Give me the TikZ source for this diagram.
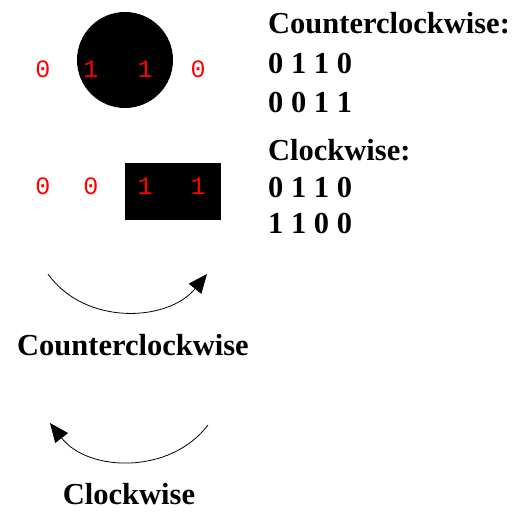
\documentclass[tikz,border=0pt]{standalone}
\usepackage{fontspec}
\setmainfont{Liberation Serif}
\newfontfamily\digitfont{Liberation Mono}
\usetikzlibrary{arrows.meta}
\begin{document}
\begin{tikzpicture}[x=1pt,y=-1pt,
  lbl/.style={font=\fontsize{30.5}{30.5}\selectfont\bfseries, inner sep=0pt, anchor=base west},
  caption/.style={font=\fontsize{30.5}{30.5}\selectfont\bfseries, inner sep=0pt, anchor=base},
  bit/.style={font=\digitfont\fontsize{25}{25}\selectfont, text=red, inner sep=0pt, anchor=base},
  turn/.style={line width=0.8pt, -{Triangle[length=19pt,width=16pt]}}]
\useasboundingbox (0,0) rectangle (514,512);
\fill[white] (0,0) rectangle (514,512);
% shapes
\node[circle, fill=black, minimum size=96pt, inner sep=0pt] (disk) at (125,60) {};
\node[fill=black, minimum width=96pt, minimum height=57pt, inner sep=0pt, anchor=north west] (bar) at (125,163) {};
% red bits, row 1
\node[bit] (b11) at (43,77) {0};
\node[bit] (b12) at (91,77) {1};
\node[bit] (b13) at (145,77) {1};
\node[bit] (b14) at (198,77) {0};
% red bits, row 2
\node[bit] (b21) at (43,194) {0};
\node[bit] (b22) at (91,194) {0};
\node[bit] (b23) at (145,194) {1};
\node[bit] (b24) at (198,194) {1};
% right column text
\node[lbl] (t1) at (268,33) {Counterclockwise:};
\node[lbl] (t2) at (268,73) {0 1 1 0};
\node[lbl] (t3) at (268,112) {0 0 1 1};
\node[lbl] (t4) at (268,160) {Clockwise:};
\node[lbl] (t5) at (268,197) {0 1 1 0};
\node[lbl] (t6) at (268,233) {1 1 0 0};
% arrows
\coordinate (a1s) at (48,274);
\coordinate (a1e) at (207,274);
\draw[turn] (a1s) .. controls (85,326) and (168,322) .. (a1e);
\node[caption] (ccw) at (133,355) {Counterclockwise};
\coordinate (a2s) at (208,425);
\coordinate (a2e) at (50,423);
\draw[turn] (a2s) .. controls (170,475) and (88,472) .. (a2e);
\node[caption] (cw) at (129,504) {Clockwise};
\end{tikzpicture}
\end{document}
